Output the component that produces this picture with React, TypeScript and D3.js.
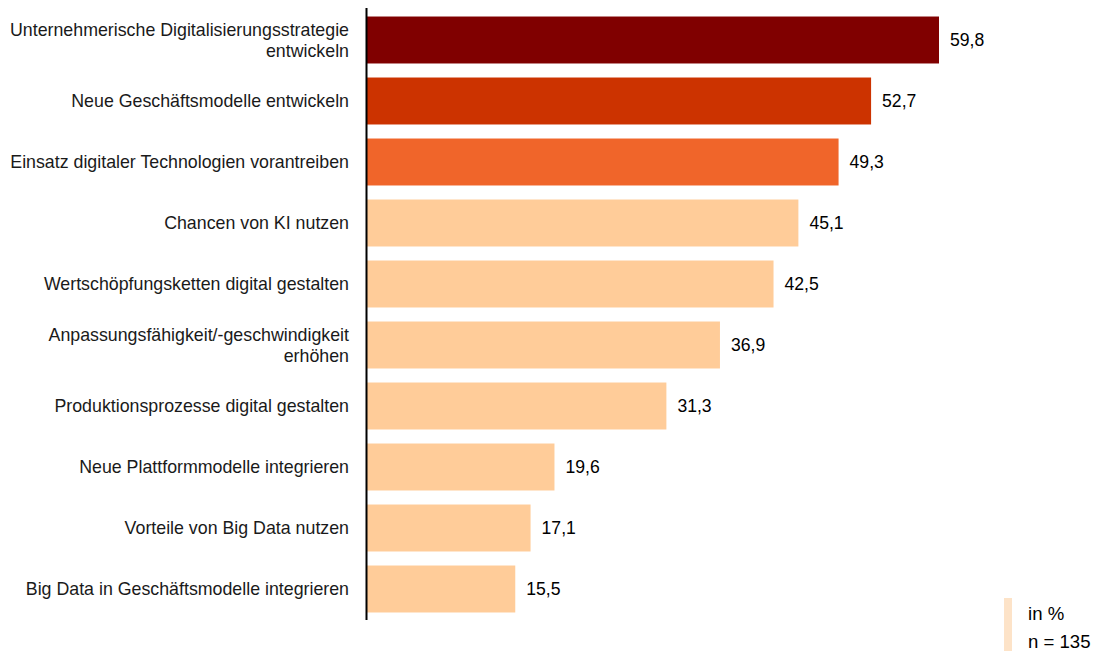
import React from "react";
import * as d3 from "d3";

const categories: string[][] = [
  ["Unternehmerische Digitalisierungsstrategie", "entwickeln"],
  ["Neue Geschäftsmodelle entwickeln"],
  ["Einsatz digitaler Technologien vorantreiben"],
  ["Chancen von KI nutzen"],
  ["Wertschöpfungsketten digital gestalten"],
  ["Anpassungsfähigkeit/-geschwindigkeit", "erhöhen"],
  ["Produktionsprozesse digital gestalten"],
  ["Neue Plattformmodelle integrieren"],
  ["Vorteile von Big Data nutzen"],
  ["Big Data in Geschäftsmodelle integrieren"],
];
const values: number[] = [59.8, 52.7, 49.3, 45.1, 42.5, 36.9, 31.3, 19.6, 17.1, 15.5];
const colors: string[] = ["#800000", "#cc3300", "#f0652a", "#ffcc99", "#ffcc99", "#ffcc99", "#ffcc99", "#ffcc99", "#ffcc99", "#ffcc99"];
const legendLines: string[] = ["in %", "n = 135"];

export default function App() {
  const W = 1098, H = 651;
  const x0 = 367;
  const x = d3.scaleLinear().domain([0, 59.8]).range([x0, 939]);
  const y = d3.scaleBand<number>().domain(d3.range(values.length)).range([9.5, 619.5]).paddingInner(0.23).paddingOuter(0.115);
  const font = "Arial, 'Liberation Sans', sans-serif";
  const fmt = (v: number) => v.toFixed(1).replace(".", ",");
  return (
    <svg width={W} height={H} style={{ position: "absolute", left: 0, top: 0 }} fontFamily={font}>
      {values.map((v, i) => {
        const yy = y(i)!;
        const bh = y.bandwidth();
        const cy = yy + bh / 2;
        const lines = categories[i];
        return (
          <g key={i}>
            <rect x={x0} y={yy} width={x(v) - x0} height={bh} fill={colors[i]} />
            <text x={x(v) + 11} y={cy} dy="0.35em" fontSize={17.6} fill="#000">{fmt(v)}</text>
            {lines.map((l, j) => (
              <text key={j} x={349} y={cy + (j - (lines.length - 1) / 2) * 21} dy="0.35em" fontSize={17.8} textAnchor="end" fill="#1a1a1a">{l}</text>
            ))}
          </g>
        );
      })}
      <line x1={366.5} x2={366.5} y1={8} y2={620} stroke="#000" strokeWidth={2} />
      <rect x={1004} y={598} width={8} height={53} fill="#fde3c8" />
      {legendLines.map((t, i) => (
        <text key={i} x={1028} y={620 + i * 28} fontSize={18.6} fill="#000">{t}</text>
      ))}
    </svg>
  );
}
